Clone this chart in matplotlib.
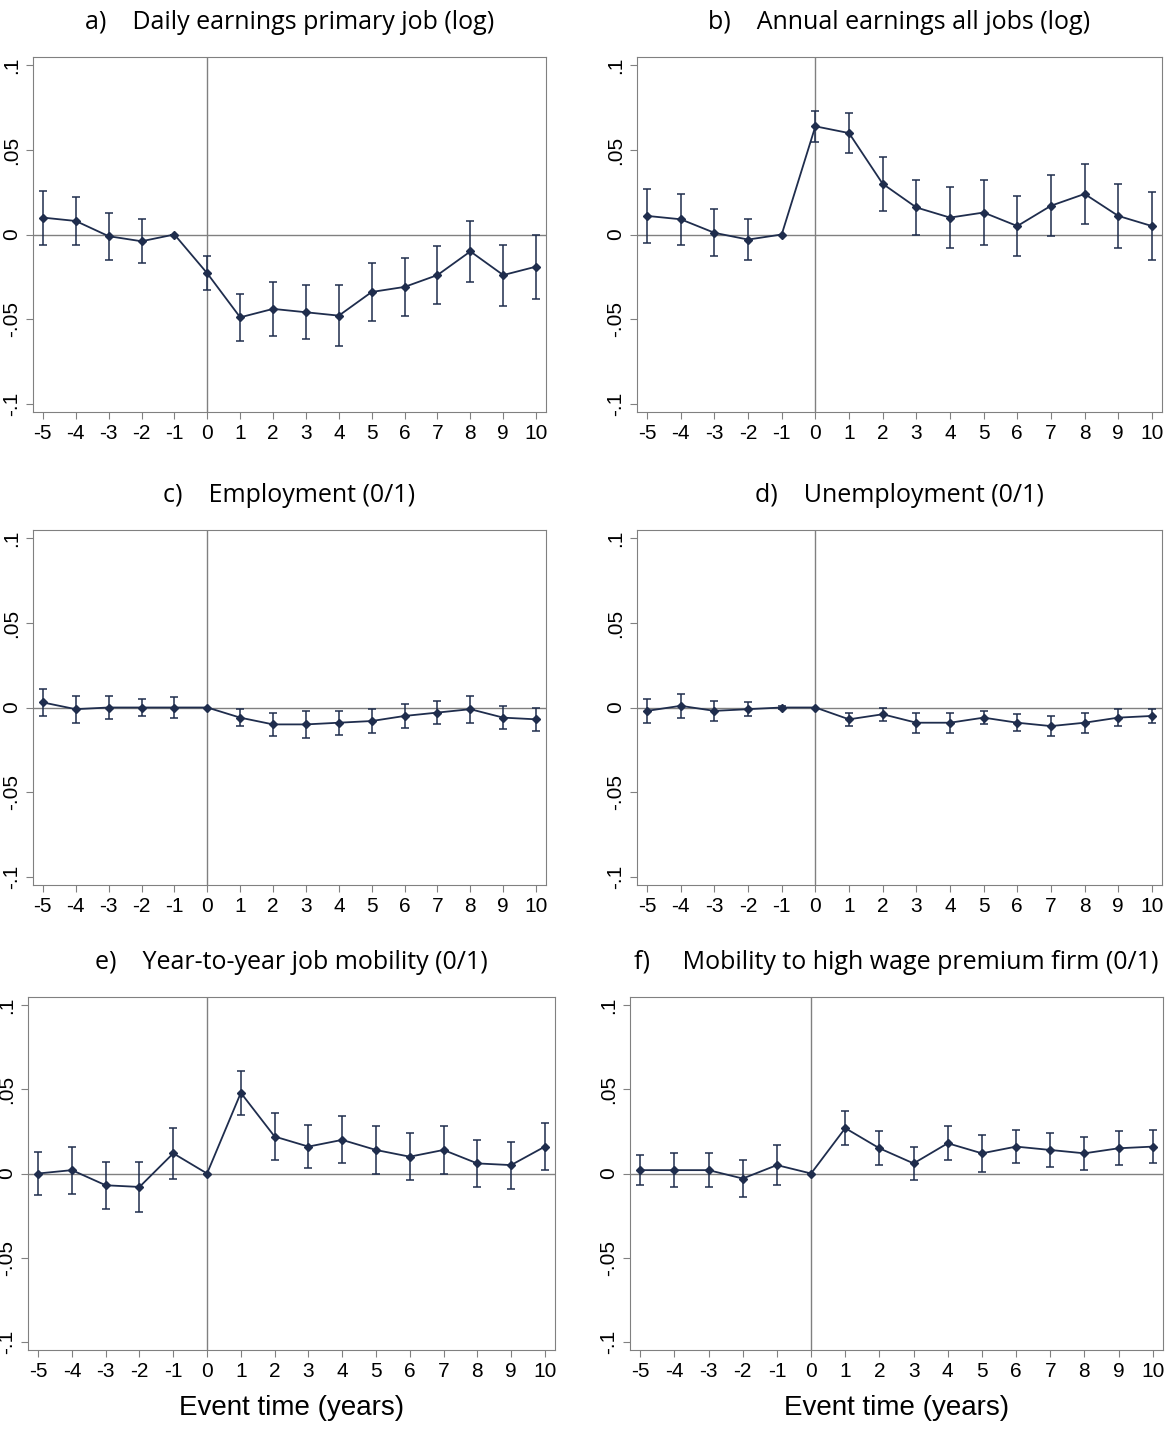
import numpy as np
import matplotlib
matplotlib.use("Agg")
import matplotlib.pyplot as plt

plt.rcParams["axes.unicode_minus"] = False
plt.rcParams["font.family"] = "Liberation Sans"

NAVY = "#1f2d4d"
GREY = "#808080"

years = list(range(-5, 11))

titles = ["a)    Daily earnings primary job (log)",
          "b)    Annual earnings all jobs (log)",
          "c)    Employment (0/1)",
          "d)    Unemployment (0/1)",
          "e)    Year-to-year job mobility (0/1)",
          "f)     Mobility to high wage premium firm (0/1)"]

coef_a = [.010, .008, -.001, -.004, 0, -.023, -.049, -.044, -.046, -.048, -.034, -.031, -.024, -.010, -.024, -.019]
ci_a = [.016, .014, .014, .013, 0, .010, .014, .016, .016, .018, .017, .017, .017, .018, .018, .019]
coef_b = [.011, .009, .001, -.003, 0, .064, .060, .030, .016, .010, .013, .005, .017, .024, .011, .005]
ci_b = [.016, .015, .014, .012, 0, .009, .012, .016, .016, .018, .019, .018, .018, .018, .019, .020]
coef_c = [.003, -.001, 0, 0, 0, 0, -.006, -.010, -.010, -.009, -.008, -.005, -.003, -.001, -.006, -.007]
ci_c = [.008, .008, .007, .005, .006, 0, .005, .007, .008, .007, .007, .007, .007, .008, .007, .007]
coef_d = [-.002, .001, -.002, -.001, 0, 0, -.007, -.004, -.009, -.009, -.006, -.009, -.011, -.009, -.006, -.005]
ci_d = [.007, .007, .006, .004, .001, 0, .004, .004, .006, .006, .004, .005, .006, .006, .005, .004]
coef_e = [0, .002, -.007, -.008, .012, 0, .048, .022, .016, .020, .014, .010, .014, .006, .005, .016]
ci_e = [.013, .014, .014, .015, .015, 0, .013, .014, .013, .014, .014, .014, .014, .014, .014, .014]
coef_f = [.002, .002, .002, -.003, .005, 0, .027, .015, .006, .018, .012, .016, .014, .012, .015, .016]
ci_f = [.009, .010, .010, .011, .012, 0, .010, .010, .010, .010, .011, .010, .010, .010, .010, .010]

coefs = [coef_a, coef_b, coef_c, coef_d, coef_e, coef_f]
cis = [ci_a, ci_b, ci_c, ci_d, ci_e, ci_f]

W, H = 1173, 1432
fig = plt.figure(figsize=(W / 100, H / 100), dpi=100)

# axes boxes in pixels: left, right, top, bottom
boxes = [(33, 546, 57, 412), (637, 1162, 57, 412),
         (33, 546, 530, 885), (637, 1162, 530, 885),
         (28, 555, 997, 1350), (630, 1163, 997, 1350)]

for i, (l, r, t, b) in enumerate(boxes):
    ax = fig.add_axes([l / W, 1 - b / H, (r - l) / W, (b - t) / H])
    c = np.array(coefs[i])
    e = np.array(cis[i])
    ax.axhline(0, color=GREY, lw=1)
    ax.axvline(0, color=GREY, lw=1)
    ax.errorbar(years, c, yerr=e, color=NAVY, lw=1.3, marker="D", ms=4,
                capsize=3, elinewidth=1.1, capthick=1.1)
    ax.set_xlim(-5.3, 10.3)
    ax.set_ylim(-0.105, 0.105)
    ax.set_xticks(years)
    ax.set_yticks([-.1, -.05, 0, .05, .1])
    ax.set_yticklabels(["-.1", "-.05", "0", ".05", ".1"], rotation=90, va="center")
    ax.tick_params(labelsize=15, length=5, color=GREY)
    for s in ax.spines.values():
        s.set_color(GREY)
    ax.set_title(titles[i], fontsize=18, family="Open Sans", pad=20)
    if i >= 4:
        ax.set_xlabel("Event time (years)", fontsize=20, labelpad=10)

fig.savefig("out.png", dpi=100)
